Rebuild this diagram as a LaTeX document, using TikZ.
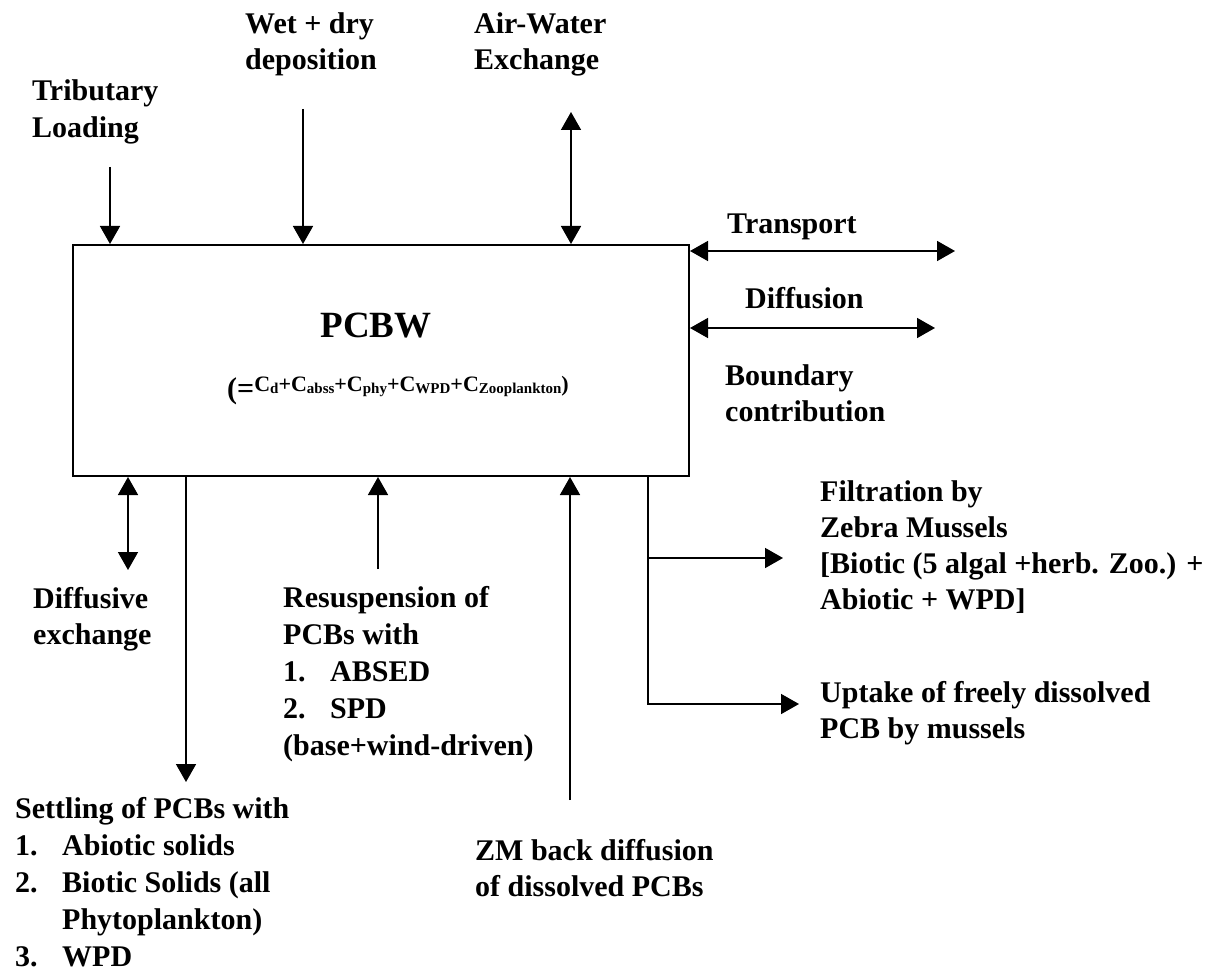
\documentclass[tikz,border=0pt]{standalone}
\usepackage{fontspec}
\setmainfont{Liberation Serif}
\usetikzlibrary{arrows.meta}
\newcommand{\lblfont}{\fontsize{30}{36}\selectfont\bfseries}
\newcommand{\lstfont}{\fontsize{30}{37}\selectfont\bfseries}
\newcommand{\fs}{\rule{0pt}{25pt}}
\newcommand{\itm}[1]{\makebox[47pt][l]{#1}}
\newcommand{\Cs}[1]{C\raisebox{-2.5pt}{\fontsize{15}{15}\selectfont #1}}
\begin{document}
\begin{tikzpicture}[x=1pt,y=-1pt,
  lbl/.style={anchor=north west, inner sep=0pt, align=left, font=\lblfont},
  lst/.style={lbl, font=\lstfont},
  arr/.style={line width=1.6pt, line join=miter, -{Triangle[length=18pt,width=20pt]}},
  darr/.style={line width=1.6pt, {Triangle[length=18pt,width=20pt]}-{Triangle[length=18pt,width=20pt]}}]
\useasboundingbox (0,0) rectangle (1222,976);
\node[draw, line width=2pt, minimum width=616pt, minimum height=231pt, anchor=north west, inner sep=0pt] (box) at (72,244) {};
\node[font=\fontsize{37}{37}\selectfont\bfseries, anchor=base, inner sep=0pt] (pcbw) at (376,337) {PCBW};
\node[anchor=base west, inner sep=0pt, font=\bfseries] (eq) at (227,398) {\fontsize{30}{30}\selectfont(=\raisebox{7pt}{\fontsize{22}{22}\selectfont\Cs{d}+\Cs{abss}+\Cs{phy}+\Cs{WPD}+\Cs{Zooplankton})}};
% labels
\node[lst] (trib) at (32,75) {\fs Tributary\\Loading};
\node[lbl] (wet) at (245,8) {\fs Wet + dry\\deposition};
\node[lbl] (air) at (474,8) {\fs Air-Water\\Exchange};
\node[lbl] (trans) at (727,208) {\fs Transport};
\node[lbl] (diff) at (745,283) {\fs Diffusion};
\node[lbl] (bound) at (725,360) {\fs Boundary\\contribution};
\node[lbl] (dex) at (33,583) {\fs Diffusive\\exchange};
\node[lst] (res) at (283,582) {\fs Resuspension of\\PCBs with\\\itm{1.}ABSED\\\itm{2.}SPD\\(base+wind-driven)};
\node[lst] (set) at (15,793) {\fs Settling of PCBs with\\\itm{1.}Abiotic solids\\\itm{2.}Biotic Solids (all\\\hspace*{47pt}Phytoplankton)\\\itm{3.}WPD};
\node[lbl] (zm) at (475,835) {\fs ZM back diffusion\\of dissolved PCBs};
\node[lbl] (filt) at (820,476) {\fs Filtration by\\Zebra Mussels\\{[}Biotic (5 algal +herb. Zoo.) +\\Abiotic + WPD]};
\node[lbl] (upt) at (820,677) {\fs Uptake of freely dissolved\\PCB by mussels};
% connector end points
\coordinate (tribS) at (110,167);
\coordinate (wetS) at (303,109);
\coordinate (airS) at (571,112);
\coordinate (transE) at (955,251);
\coordinate (diffE) at (935,328);
\coordinate (dexE) at (128,570);
\coordinate (setE) at (186,782);
\coordinate (resS) at (378,569);
\coordinate (zmS) at (570,800);
\coordinate (fm) at (648,558);
\coordinate (fb) at (648,704);
\coordinate (filtE) at (783,558);
\coordinate (uptE) at (799,704);
% connectors
\draw[arr] (tribS) -- (tribS |- box.north);
\draw[arr] (wetS) -- (wetS |- box.north);
\draw[darr] (airS) -- (airS |- box.north);
\draw[darr] (box.east |- transE) -- (transE);
\draw[darr] (box.east |- diffE) -- (diffE);
\draw[darr] (dexE |- box.south) -- (dexE);
\draw[arr] (setE |- box.south) -- (setE);
\draw[arr] (resS) -- (resS |- box.south);
\draw[arr] (zmS) -- (zmS |- box.south);
\draw[arr] (fb |- box.south) -- (fb) -- (uptE);
\draw[arr] (fm) -- (filtE);
\end{tikzpicture}
\end{document}
